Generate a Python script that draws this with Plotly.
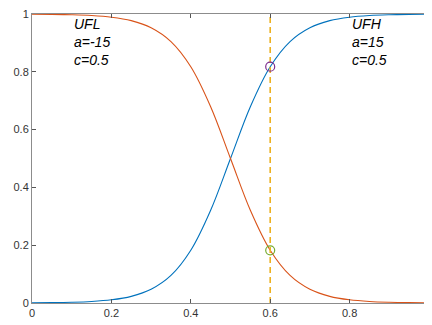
import plotly.graph_objects as go

x_vals = [0.00, 0.05, 0.10, 0.15, 0.20, 0.25, 0.30, 0.35, 0.40, 0.45, 0.50,
          0.55, 0.60, 0.65, 0.70, 0.75, 0.80, 0.85, 0.90, 0.95, 1.00]
ufh_vals = [0.0006, 0.0012, 0.0025, 0.0052, 0.0110, 0.0230, 0.0474, 0.0953, 0.1824, 0.3208, 0.5000,
            0.6792, 0.8176, 0.9047, 0.9526, 0.9770, 0.9890, 0.9948, 0.9975, 0.9988, 0.9994]
ufl_vals = [0.9994, 0.9988, 0.9975, 0.9948, 0.9890, 0.9770, 0.9526, 0.9047, 0.8176, 0.6792, 0.5000,
            0.3208, 0.1824, 0.0953, 0.0474, 0.0230, 0.0110, 0.0052, 0.0025, 0.0012, 0.0006]
x_cut = 0.6
ufh_at_cut = 0.8176
ufl_at_cut = 0.1824
tick_vals = [0, 0.2, 0.4, 0.6, 0.8, 1]
tick_text = ["0", "0.2", "0.4", "0.6", "0.8", "1"]
label_low = ["UFL", "a=-15", "c=0.5"]
label_high = ["UFH", "a=15", "c=0.5"]

fig = go.Figure()
fig.add_trace(go.Scatter(x=x_vals, y=ufh_vals, mode="lines", line=dict(color="#0072BD", width=1.1, shape="spline", smoothing=1.0)))
fig.add_trace(go.Scatter(x=x_vals, y=ufl_vals, mode="lines", line=dict(color="#D95319", width=1.1, shape="spline", smoothing=1.0)))
fig.add_trace(go.Scatter(x=[x_cut, x_cut], y=[0, 1], mode="lines", line=dict(color="#EDB120", width=1.6, dash="6px,4px")))
fig.add_trace(go.Scatter(x=[x_cut], y=[ufh_at_cut], mode="markers",
                         marker=dict(symbol="circle-open", size=9, color="#7E2F8E", line=dict(width=1.2))))
fig.add_trace(go.Scatter(x=[x_cut], y=[ufl_at_cut], mode="markers",
                         marker=dict(symbol="circle-open", size=9, color="#77AC30", line=dict(width=1.2))))

def italic_lines(lines):
    return "<br>".join("<i>" + s + "</i>" for s in lines)

fig.add_annotation(x=0.1, y=1.0, text=italic_lines(label_low), showarrow=False, xanchor="left", yanchor="top",
                   align="left", font=dict(family="Liberation Sans, Arial", size=14, color="#000000"))
fig.add_annotation(x=0.8, y=1.0, text=italic_lines(label_high), showarrow=False, xanchor="left", yanchor="top",
                   align="left", font=dict(family="Liberation Sans, Arial", size=14, color="#000000"))

axis_common = dict(showgrid=False, zeroline=False, showline=True, linecolor="#8c8c8c", linewidth=1,
                   mirror="allticks", ticks="inside", ticklen=4, tickcolor="#555555",
                   tickfont=dict(family="Liberation Sans, Arial", size=11, color="#333333"),
                   tickvals=tick_vals, ticktext=tick_text, ticklabeloverflow="allow")
fig.update_xaxes(range=[0, 1], **axis_common)
fig.update_yaxes(range=[0, 1], **axis_common)
fig.update_layout(width=424, height=317, margin=dict(l=24, r=0, t=4, b=22),
                  showlegend=False, plot_bgcolor="white", paper_bgcolor="white")
fig.write_html("out.html")
